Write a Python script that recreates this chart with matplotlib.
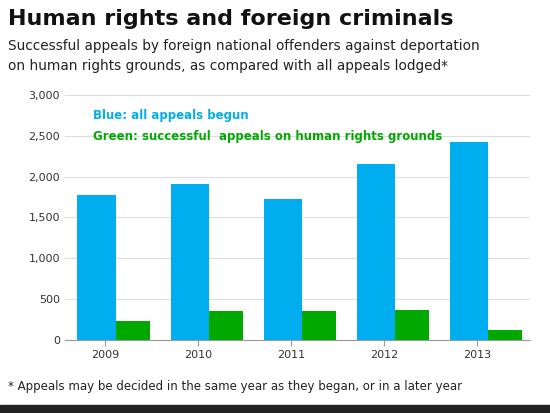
import matplotlib
matplotlib.use("Agg")
import matplotlib.pyplot as plt
import numpy as np

years = ["2009", "2010", "2011", "2012", "2013"]
all_appeals = [1780, 1905, 1730, 2150, 2430]
successful_hr = [230, 360, 355, 370, 120]

plt.rcParams['font.family'] = ['DejaVu Sans']
fig = plt.figure(figsize=(5.5, 4.13), dpi=100)
ax = fig.add_axes([0.118, 0.177, 0.846, 0.593])
x = np.arange(len(years))
ax.bar(x - 0.09, all_appeals, width=0.41, color="#00aeef", zorder=2)
ax.bar(x + 0.30, successful_hr, width=0.37, color="#00a800", zorder=2)
ax.set_xlim(-0.43, 4.57)
ax.set_ylim(0, 3000)
ax.set_yticks(range(0, 3001, 500))
ax.set_yticklabels(["0", "500", "1,000", "1,500", "2,000", "2,500", "3,000"])
ax.set_xticks(x)
ax.set_xticklabels(years)
ax.tick_params(labelsize=8, length=0, colors="#333333")
ax.tick_params(axis='x', length=4, color="#999999")
ax.grid(axis='y', color="#dddddd", lw=0.8, zorder=0)
for s in ["top", "right", "left"]:
    ax.spines[s].set_visible(False)
ax.spines["bottom"].set_color("#999999")
ax.text(0.06, 0.9, "Blue: all appeals begun", transform=ax.transAxes, color="#00aeef", fontsize=8.5, fontweight="bold")
ax.text(0.06, 0.815, "Green: successful  appeals on human rights grounds", transform=ax.transAxes, color="#00a800", fontsize=8.5, fontweight="bold")

fig.text(0.015, 0.94, "Human rights and foreign criminals", fontsize=16, fontweight="bold", color="#111111")
fig.text(0.015, 0.878, "Successful appeals by foreign national offenders against deportation", fontsize=9.8, color="#222222")
fig.text(0.015, 0.83, "on human rights grounds, as compared with all appeals lodged*", fontsize=9.8, color="#222222")
fig.text(0.015, 0.055, "* Appeals may be decided in the same year as they began, or in a later year", fontsize=8.5, color="#222222")
fig.patches.append(plt.Rectangle((0, 0), 1, 0.02, transform=fig.transFigure, color="#222222"))
fig.savefig("out.png", dpi=100)
